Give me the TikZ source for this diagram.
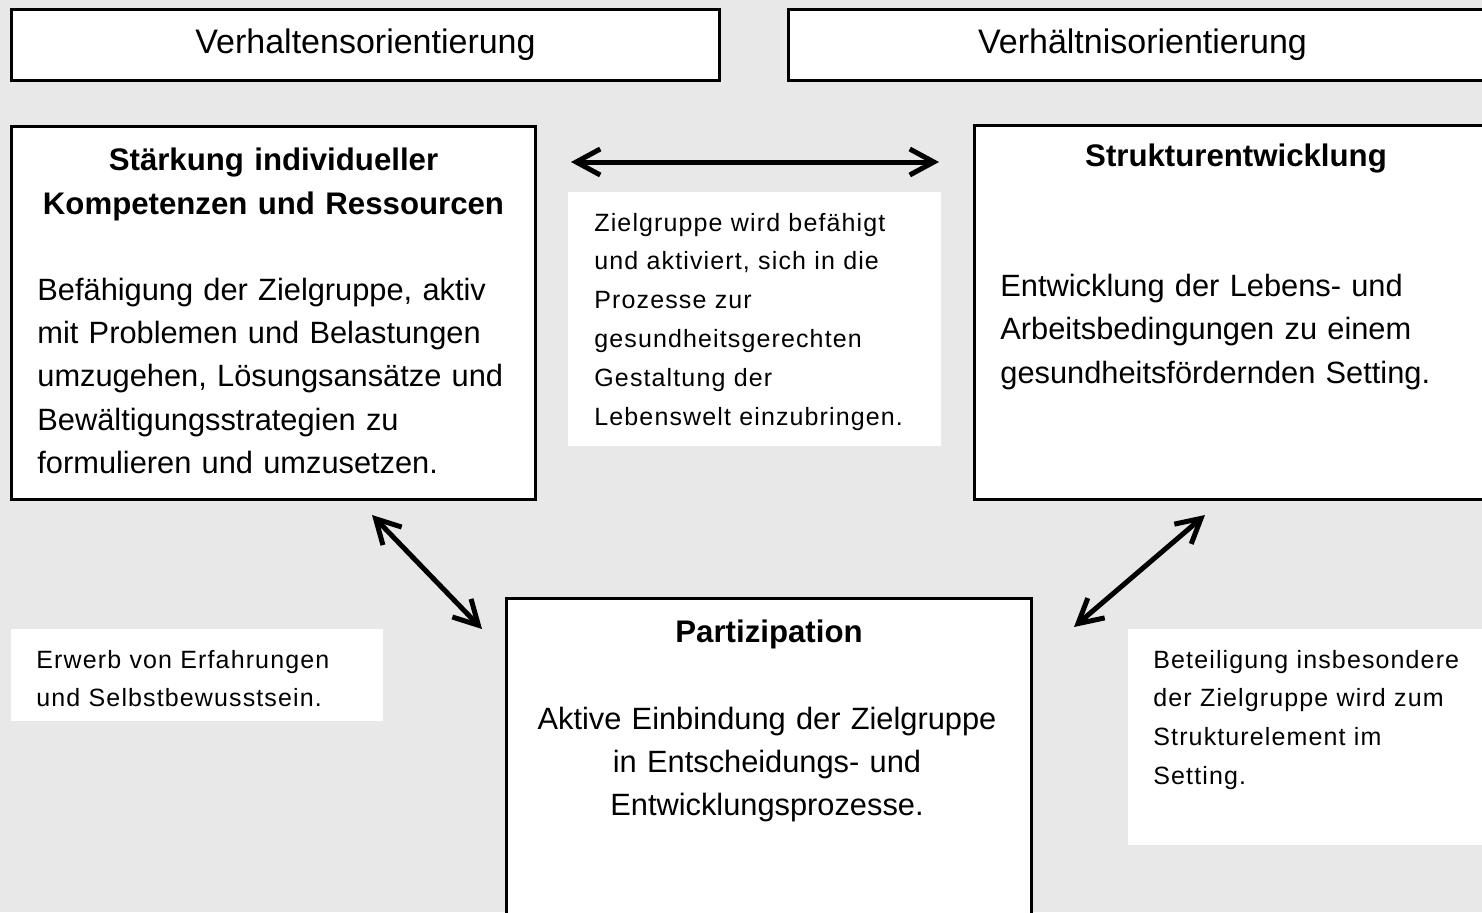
\documentclass[tikz,border=0pt]{standalone}
\usepackage{fontspec}
\setmainfont{Liberation Sans}
\newfontfamily\notizfont[LetterSpace=4.5]{Liberation Sans}
\usepackage{tikz}
\usetikzlibrary{arrows.meta}
\definecolor{hintergrund}{RGB}{232,232,232}

\tikzset{
  rahmen/.style={draw=black, line width=1.5pt, fill=white, inner sep=0pt, outer sep=0pt, anchor=north west},
  feld/.style={fill=white, inner sep=0pt, outer sep=0pt, anchor=north west},
  kopf/.style={font=\fontsize{17}{20}\selectfont},
  titel/.style={font=\fontsize{15.6}{22}\selectfont\bfseries, align=center, text width=255pt, anchor=base, inner sep=0pt},
  rumpf/.style={font=\fontsize{15.4}{21.7}\selectfont, align=left, text width=255pt, anchor=base west, inner sep=0pt},
  mitte/.style={font=\fontsize{15.4}{21.7}\selectfont, align=center, text width=255pt, anchor=base, inner sep=0pt},
  notiz/.style={font=\notizfont\fontsize{12.5}{19.4}\selectfont, align=left, text width=180pt, anchor=base west, inner sep=0pt},
  pfeil/.style={line width=2.5pt, line cap=round, line join=round, {Straight Barb[length=12pt,width=13pt]}-{Straight Barb[length=12pt,width=13pt]}}
}

\begin{document}
\begin{tikzpicture}[x=0.5pt,y=-0.5pt]
\useasboundingbox (0,0) rectangle (1482,912);
\clip (0,0) rectangle (1482,912);
\fill[hintergrund] (0,0) rectangle (1482,912);

%Shape: Rectangle [top]
\node[rahmen, kopf, minimum width=354pt, minimum height=35.5pt] (verhalten) at (11.5,9.5) {Verhaltensorientierung};
\node[rahmen, kopf, minimum width=354pt, minimum height=35.5pt] (verhaeltnis) at (788.5,9.5) {Verhältnisorientierung};

%Shape: Rectangle [main boxes]
\node[rahmen, minimum width=262pt, minimum height=186.5pt] (staerkung) at (11.5,126.5) {};
\node[rahmen, minimum width=262pt, minimum height=187pt] (struktur) at (974.5,125.5) {};
\node[rahmen, minimum width=262.5pt, minimum height=200pt] (partizipation) at (506.5,598.5) {};

%Shape: Rectangle [white notes]
\node[feld, minimum width=186.5pt, minimum height=127pt] (feldmitte) at (568,192) {};
\node[feld, minimum width=186pt, minimum height=46pt] (feldlinks) at (11,629) {};
\node[feld, minimum width=186pt, minimum height=108pt] (feldrechts) at (1128,629) {};

% Text Node
\node[titel] (staerkungtitel) at (273.5,170) {Stärkung individueller\\Kompetenzen und Ressourcen};
\node[rumpf] (staerkungtext) at (37,300) {Befähigung der Zielgruppe, aktiv\\mit Problemen und Belastungen\\umzugehen, Lösungsansätze und\\Bewältigungsstrategien zu\\formulieren und umzusetzen.};

% Text Node
\node[titel] (strukturtitel) at (1236,166) {Strukturentwicklung};
\node[rumpf] (strukturtext) at (1000,296.5) {Entwicklung der Lebens- und\\Arbeitsbedingungen zu einem\\gesundheitsfördernden Setting.};

% Text Node
\node[titel] (partizipationtitel) at (769,642) {Partizipation};
\node[mitte] (partizipationtext) at (767,729) {Aktive Einbindung der Zielgruppe\\in Entscheidungs- und\\Entwicklungsprozesse.};

% Text Node
\node[notiz] (notizmitte) at (594,231) {Zielgruppe wird befähigt\\und aktiviert, sich in die\\Prozesse zur\\gesundheitsgerechten\\Gestaltung der\\Lebenswelt einzubringen.};
\node[notiz] (notizlinks) at (36,668) {Erwerb von Erfahrungen\\und Selbstbewusstsein.};
\node[notiz] (notizrechts) at (1153,668) {Beteiligung insbesondere\\der Zielgruppe wird zum\\Strukturelement im\\Setting.};

%Straight Lines [double arrows]
\coordinate (oben1) at (571,162);
\coordinate (oben2) at (939,162);
\coordinate (links1) at (372,515);
\coordinate (links2) at (482,629);
\coordinate (rechts1) at (1205,515);
\coordinate (rechts2) at (1074,627);
\draw[pfeil] (oben1) -- (oben2);
\draw[pfeil] (links1) -- (links2);
\draw[pfeil] (rechts1) -- (rechts2);

\end{tikzpicture}
\end{document}
